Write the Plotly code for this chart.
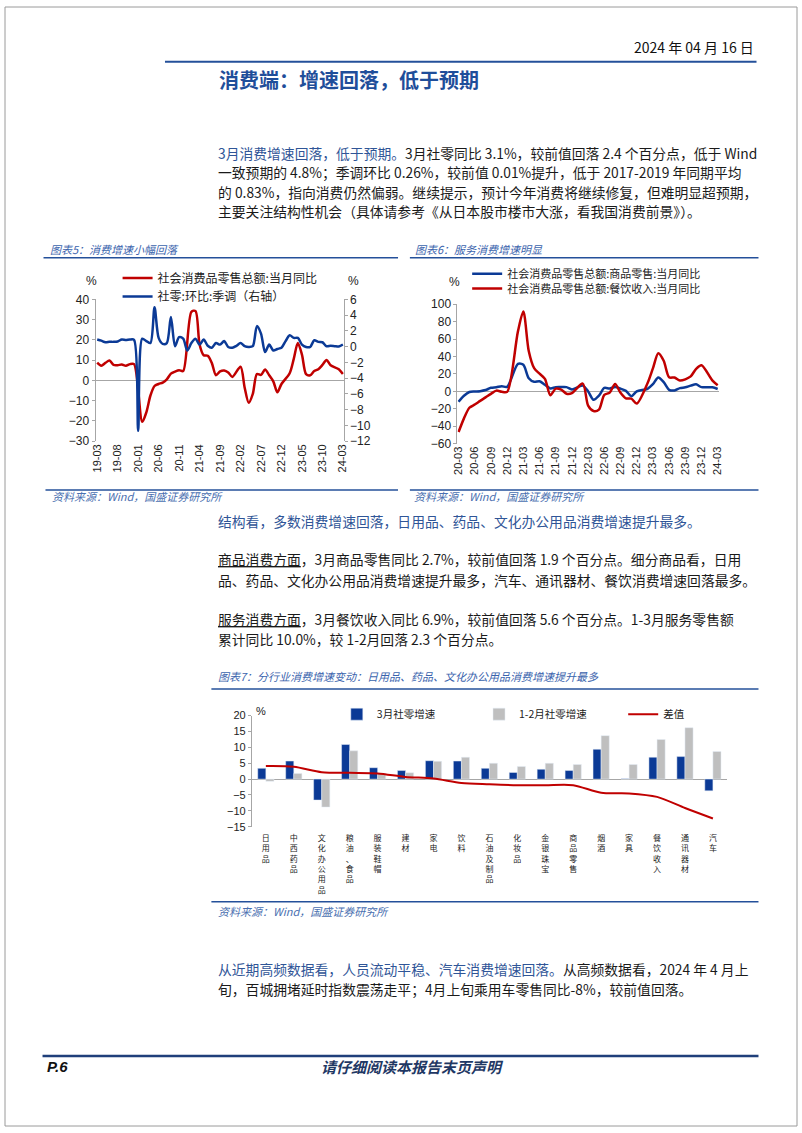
import plotly.graph_objects as go
import pandas as pd

W, H = 802, 1133
def X(px): return px / W
def Y(py): return 1 - py / H

# ---------------- Chart 5 data ----------------
months5 = list(pd.period_range('2019-03', '2024-03', freq='M').strftime('%y-%m'))
ticks5 = months5[::5]
retail_yoy = [8.7, 7.2, 8.6, 9.8, 7.6, 7.5, 7.8, 7.2, 8.0, 8.0,
              None, -20.5, -15.8, -7.5, -2.8, -1.8, -1.1, 0.5, 3.3, 4.3, 5.0, 4.6,
              None, 33.8, 34.2, 17.7, 12.4, 12.1, 8.5, 2.5, 4.4, 4.9, 3.9, 1.7,
              None, 6.7, -3.5, -11.1, -6.7, 3.1, 2.7, 5.4, 2.5, -0.5, -5.9, -1.8,
              None, 3.5, 10.6, 18.4, 12.7, 3.1, 2.5, 4.6, 5.5, 7.6, 10.1, 7.4,
              None, 5.5, 3.1]
retail_mom_sa = [0.9, 0.75, 0.55, 0.6, 0.6, 0.65, 0.9, 0.85, 0.9, 0.85,
                 -10.7, 1.0, 0.7, 0.45, 5.0, 1.1, 0.35, 0.45, 3.75, 0.05, 1.2, 1.0,
                 -0.5, 0.45, 1.0, 0.25, 0.9, 0.1, -0.15, 0.45, 0.25, 0.7, -0.05, -0.15,
                 0.1, 0.45, 0.05, -0.05, 0.05, 2.6, 1.65, -0.7, 0.25, -0.5, -0.3, -0.15,
                 0.7, 1.45, 1.1, 1.1, 0.25, -0.05, -0.05, 0.8, 0.6, 0.55, 0.05, 0.1,
                 0.05, 0.01, 0.26]

# ---------------- Chart 6 data ----------------
months6 = list(pd.period_range('2020-03', '2024-03', freq='M').strftime('%y-%m'))
ticks6 = months6[::3]
goods_yoy = [-12.0, -5.1, -0.8, -0.2, 0.2, 1.5, 4.0, 4.7, 5.8, 5.2,
             None, 31.5, 30.5, 15.1, 10.9, 11.5, 7.5, 3.3, 4.8, 4.9, 4.8, 2.1,
             None, 6.5, -0.1, -9.7, -5.0, 3.9, 3.2, 5.1, 3.0, 0.5, -5.6, -0.1,
             None, 2.9, 8.2, 15.9, 10.5, 1.7, 1.0, 3.7, 4.6, 6.5, 8.0, 4.8,
             None, 4.6, 2.7]
catering_yoy = [-46.8, -31.1, -18.9, -15.2, -11.0, -7.0, -2.9, 0.8, -0.6, -0.6,
                None, 68.9, 91.6, 46.4, 26.6, 20.2, 14.3, -4.5, 3.1, 2.0, -2.7, -2.0,
                None, 8.9, -16.4, -22.7, -21.1, -4.0, -1.5, 8.4, -1.7, -8.1, -8.4, -14.1,
                None, 9.2, 26.3, 43.8, 35.1, 16.1, 15.8, 12.4, 13.8, 17.1, 25.8, 30.0,
                None, 12.5, 6.9]

# ---------------- Chart 7 data ----------------
categories7 = ['日用品', '中西药品', '文化办公用品', '粮油、食品', '服装鞋帽', '建材', '家电', '饮料',
               '石油及制品', '化妆品', '金银珠宝', '商品零售', '烟酒', '家具', '餐饮收入', '通讯器材', '汽车']
mar_growth = [3.4, 5.7, -6.6, 10.9, 3.6, 2.7, 5.8, 5.7, 3.4, 2.1, 3.1, 2.7, 9.4, 0.1, 6.9, 7.1, -3.7]
janfeb_growth = [-0.7, 1.8, -8.8, 8.9, 1.8, 2.0, 5.6, 6.9, 5.0, 4.0, 5.0, 4.6, 13.7, 4.6, 12.5, 16.2, 8.7]
diff_growth = [4.1, 3.9, 2.2, 2.0, 1.8, 0.7, 0.2, -1.2, -1.6, -1.9, -1.9, -1.9, -4.3, -4.5, -5.6, -9.1, -12.4]

RED = '#C00000'
BLUE = '#0B3A96'
GRAY = '#BFBFBF'
AX = '#A6A6A6'
NAVY = '#24509A'
TXT = '#1A1A1A'
EMPH = '#2F5597'
CJK = 'Noto Sans CJK SC'
NUM = 'Liberation Sans, Noto Sans CJK SC'

fig = go.Figure()

# Chart 5 traces
fig.add_trace(go.Scatter(x=months5, y=retail_yoy, mode='lines', name='社会消费品零售总额:当月同比',
                         line=dict(color=RED, width=2.5, shape='spline', smoothing=0.8), connectgaps=True,
                         xaxis='x', yaxis='y', legend='legend'))
fig.add_trace(go.Scatter(x=months5, y=retail_mom_sa, mode='lines', name='社零:环比:季调（右轴）',
                         line=dict(color=BLUE, width=2.5, shape='spline', smoothing=0.8), connectgaps=True,
                         xaxis='x', yaxis='y2', legend='legend2'))
# Chart 6 traces
fig.add_trace(go.Scatter(x=months6, y=goods_yoy, mode='lines', name='社会消费品零售总额:商品零售:当月同比',
                         line=dict(color=BLUE, width=2.5, shape='spline', smoothing=0.8), connectgaps=True,
                         xaxis='x3', yaxis='y3', legend='legend3'))
fig.add_trace(go.Scatter(x=months6, y=catering_yoy, mode='lines', name='社会消费品零售总额:餐饮收入:当月同比',
                         line=dict(color=RED, width=2.5, shape='spline', smoothing=0.8), connectgaps=True,
                         xaxis='x3', yaxis='y3', legend='legend4'))
# Chart 7 traces
fig.add_trace(go.Bar(x=categories7, y=mar_growth, name='3月社零增速', marker_color=BLUE,
                     xaxis='x5', yaxis='y5', legend='legend5'))
fig.add_trace(go.Bar(x=categories7, y=janfeb_growth, name='1-2月社零增速', marker_color=GRAY,
                     xaxis='x5', yaxis='y5', legend='legend6'))
fig.add_trace(go.Scatter(x=categories7, y=diff_growth, mode='lines', name='差值',
                         line=dict(color=RED, width=2, shape='spline', smoothing=0.8),
                         xaxis='x5', yaxis='y5', legend='legend7'))

tickfont = dict(family=NUM, size=12, color='#222')
xtickfont = dict(family=NUM, size=11, color='#222')

def leg(xp, yp, size):
    return dict(x=X(xp), y=Y(yp), xanchor='left', yanchor='middle', bgcolor='rgba(0,0,0,0)',
                font=dict(family=CJK, size=size, color='#222'), borderwidth=0)

fig.update_layout(
    width=W, height=H, margin=dict(l=0, r=0, t=0, b=0),
    paper_bgcolor='white', plot_bgcolor='rgba(0,0,0,0)',
    barmode='group', bargap=0.42, bargroupgap=0.0,
    showlegend=True,
    legend=leg(114, 274.5, 12), legend2=leg(114, 293, 12),
    legend3=leg(468, 270, 11), legend4=leg(468, 285, 11),
    legend5=leg(336, 716, 10.5), legend6=leg(480, 716, 10.5), legend7=leg(626, 716, 10.5),
    # chart 5
    xaxis=dict(domain=[X(91.7), X(343)], range=[-0.4, 60.2], type='category', categoryarray=months5,
               tickvals=ticks5, ticktext=ticks5, tickangle=-90, tickfont=xtickfont, showgrid=False,
               showline=False, ticks='', anchor='y', zeroline=False),
    yaxis=dict(domain=[Y(439.5), Y(296)], range=[-30, 40], dtick=10, tickfont=tickfont, showgrid=False,
               showline=True, linecolor=AX, ticks='outside', ticklen=3, tickcolor=AX, zeroline=True,
               zerolinecolor=AX, zerolinewidth=1, anchor='x'),
    yaxis2=dict(overlaying='y', side='right', range=[-12, 6], dtick=2, tickfont=tickfont, showgrid=False,
                showline=True, linecolor=AX, ticks='outside', ticklen=3, tickcolor=AX, zeroline=False,
                anchor='x'),
    # chart 6
    xaxis3=dict(domain=[X(458.2), X(723)], range=[-0.2, 48.24], type='category', categoryarray=months6,
                tickvals=ticks6, ticktext=ticks6, tickangle=-90, tickfont=xtickfont, showgrid=False,
                showline=False, ticks='', anchor='y3', zeroline=False),
    yaxis3=dict(domain=[Y(442), Y(301)], range=[-60, 100], dtick=20, tickfont=tickfont, showgrid=False,
                showline=True, linecolor=AX, ticks='outside', ticklen=3, tickcolor=AX, zeroline=True,
                zerolinecolor=AX, zerolinewidth=1, anchor='x3'),
    # chart 7
    xaxis5=dict(domain=[X(250), X(731)], range=[-0.5, 16.5], type='category', categoryarray=categories7,
                tickvals=categories7, ticktext=['<br>'.join(list(c)) for c in categories7],
                tickangle=0, tickfont=dict(family=CJK, size=8, color='#222'), showgrid=False,
                showline=False, ticks='', anchor='y5', zeroline=False, ticklabelstandoff=5),
    yaxis5=dict(domain=[Y(830), Y(717.5)], range=[-15, 20], dtick=5, tickfont=dict(family=NUM, size=11, color='#222'),
                showgrid=False, showline=True, linecolor=AX, ticks='outside', ticklen=3, tickcolor=AX,
                zeroline=True, zerolinecolor=AX, zerolinewidth=1, anchor='x5'),
)

shapes = []
def hline(x0, x1, y, color=NAVY, width=1.5):
    shapes.append(dict(type='line', xref='paper', yref='paper', x0=X(x0), x1=X(x1), y0=Y(y), y1=Y(y),
                       line=dict(color=color, width=width)))
hline(162, 761, 55.5, NAVY, 2)
hline(39, 398, 254)
hline(410, 763, 254)
hline(41, 398, 489)
hline(410, 763, 489)
hline(209, 763, 690.5)
hline(209, 763, 906)
hline(38, 763, 1062, '#1F3F7A', 2.5)
shapes.append(dict(type='rect', xref='paper', yref='paper', x0=0, x1=1, y0=0, y1=1,
                   line=dict(color='#9A9A9A', width=1)))
fig.update_layout(shapes=shapes)

ann = []
def text(x, y, s, size=13.8, color=TXT, anchor='left', family=CJK):
    ann.append(dict(xref='paper', yref='paper', x=X(x), y=Y(y), text=s, showarrow=False,
                    xanchor=anchor, yanchor='middle', font=dict(family=family, size=size, color=color)))

text(760, 40, '2024 年 04 月 16 日', 14, '#111', 'right')
text(215, 73.5, '<b>消费端：增速回落，低于预期</b>', 20, '#1F4E9A')

text(214, 147.5, f"<span style='color:{EMPH}'>3月消费增速回落，低于预期。</span>3月社零同比 3.1%，较前值回落 2.4 个百分点，低于 Wind")
text(214, 167, '一致预期的 4.8%；季调环比 0.26%，较前值 0.01%提升，低于 2017-2019 年同期平均')
text(214, 187, '的 0.83%，指向消费仍然偏弱。继续提示，预计今年消费将继续修复，但难明显超预期，')
text(214, 206.5, '主要关注结构性机会（具体请参考《从日本股市楼市大涨，看我国消费前景》）。')

text(44, 245, '<i>图表5：消费增速小幅回落</i>', 11, '#3B64AD')
text(413, 245, '<i>图表6：服务消费增速明显</i>', 11, '#3B64AD')
text(88, 277, '%', 12, '#222', 'center', NUM)
text(353, 277, '%', 12, '#222', 'center', NUM)
text(455, 278, '%', 12, '#222', 'center', NUM)
text(46, 495, '<i>资料来源：Wind，国盛证券研究所</i>', 11, '#4A6FB0')
text(412, 495, '<i>资料来源：Wind，国盛证券研究所</i>', 11, '#4A6FB0')

text(214, 520.5, f"<span style='color:{EMPH}'>结构看，多数消费增速回落，日用品、药品、文化办公用品消费增速提升最多。</span>")
text(214, 559, '<u>商品消费方面</u>，3月商品零售同比 2.7%，较前值回落 1.9 个百分点。细分商品看，日用')
text(214, 580, '品、药品、文化办公用品消费增速提升最多，汽车、通讯器材、餐饮消费增速回落最多。')
text(214, 619.5, '<u>服务消费方面</u>，3月餐饮收入同比 6.9%，较前值回落 5.6 个百分点。1-3月服务零售额')
text(214, 640, '累计同比 10.0%，较 1-2月回落 2.3 个百分点。')

text(214, 677.5, '<i>图表7：分行业消费增速变动：日用品、药品、文化办公用品消费增速提升最多</i>', 11, '#3B64AD')
text(252, 713, '%', 11, '#222', 'left', NUM)
text(214, 915, '<i>资料来源：Wind，国盛证券研究所</i>', 11, '#4A6FB0')

text(214, 974, f"<span style='color:{EMPH}'>从近期高频数据看，人员流动平稳、汽车消费增速回落。</span>从高频数据看，2024 年 4 月上")
text(214, 994, '旬，百城拥堵延时指数震荡走平；4月上旬乘用车零售同比-8%，较前值回落。')

text(41, 1073, '<b><i>P.6</i></b>', 15, '#111', 'left', NUM)
text(413, 1073, '<b><i>请仔细阅读本报告末页声明</i></b>', 15, '#1F3864', 'center')

fig.update_layout(annotations=ann)
fig.write_html('out.html', config={'displayModeBar': False},
               post_script="document.body.style.margin='0';document.body.style.overflow='hidden';")
